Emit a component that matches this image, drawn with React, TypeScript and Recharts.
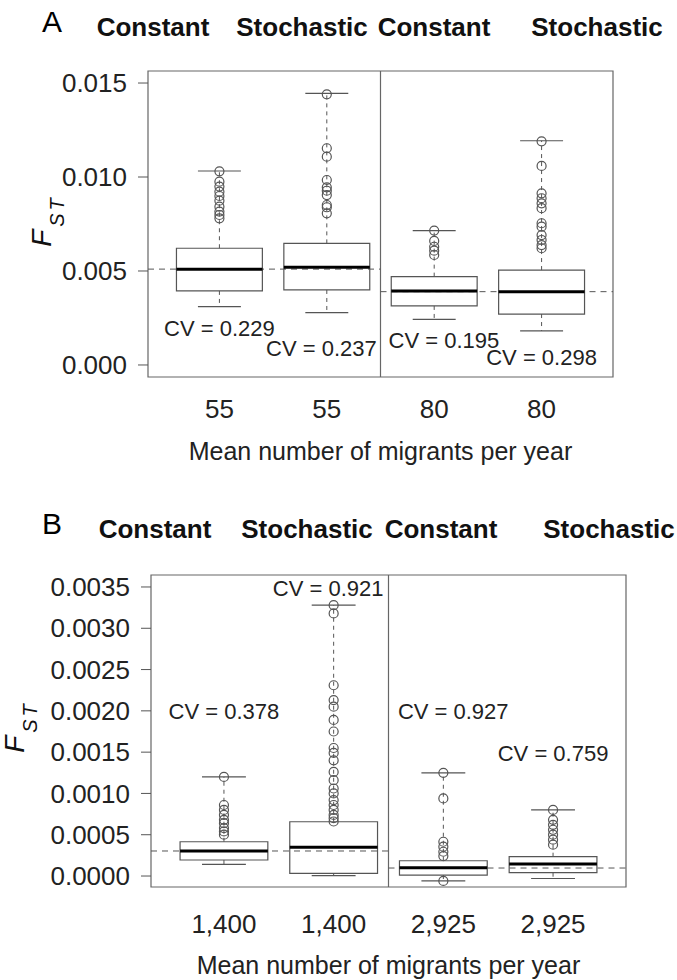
import {
  ComposedChart,
  ReferenceArea,
  ReferenceDot,
  ReferenceLine,
  Scatter,
  XAxis,
  YAxis,
} from "recharts";

const FONT = "'Liberation Sans', Arial, Helvetica, sans-serif";
const GREY = "#555555";

// shared
const groups = ["Constant", "Stochastic", "Constant", "Stochastic"];
const positions = [1, 2, 3, 4];
const xDomain: [number, number] = [0.335, 4.665];
const divider = 2.5;

// panel A
const migrantsA = ["55", "55", "80", "80"];
const minA = [0.0031, 0.00278, 0.00243, 0.00181];
const q1A = [0.00394, 0.00399, 0.00314, 0.00271];
const medA = [0.00509, 0.0052, 0.00394, 0.0039];
const q3A = [0.00621, 0.00647, 0.0047, 0.00505];
const maxA = [0.01032, 0.01445, 0.00715, 0.01193];
const outliersA = [
  [0.0103, 0.00975, 0.00949, 0.00922, 0.00899, 0.00874, 0.00842, 0.00816, 0.00798, 0.0078],
  [0.0144, 0.01153, 0.01108, 0.00984, 0.00945, 0.00927, 0.00904, 0.00851, 0.00839, 0.00807],
  [0.00715, 0.0066, 0.00629, 0.00608, 0.00585],
  [0.0119, 0.01059, 0.00913, 0.00887, 0.0086, 0.00834, 0.00754, 0.00736, 0.00691, 0.00665, 0.00638, 0.00621],
];
const meanA = [0.0051, 0.0039];
const cvTextA = ["CV = 0.229", "CV = 0.237", "CV = 0.195", "CV = 0.298"];
const cvXA = [1.0, 1.95, 3.09, 4.0];
const cvYA = [0.00197, 0.0009, 0.00133, 0.00043];
const ticksA = [0, 0.005, 0.01, 0.015];
const yDomainA: [number, number] = [-0.00064, 0.01564];

// panel B
const migrantsB = ["1,400", "1,400", "2,925", "2,925"];
const minB = [0.000141, 0.000004, -0.00006, -0.00003];
const q1B = [0.000194, 0.000032, 0.000012, 0.00004];
const medB = [0.000303, 0.000347, 0.0001, 0.000145];
const q3B = [0.000415, 0.000657, 0.000185, 0.000234];
const maxB = [0.0012, 0.00328, 0.00125, 0.0008];
const outliersB = [
  [0.0012, 0.00086, 0.0008, 0.00074, 0.00068, 0.00064, 0.00058, 0.00054, 0.0005],
  [0.00328, 0.00318, 0.00231, 0.00213, 0.00205, 0.00189, 0.00175, 0.00155, 0.00149, 0.0014,
    0.00126, 0.00116, 0.00106, 0.001, 0.00092, 0.00086, 0.0008, 0.00074, 0.0007, 0.00066],
  [0.00125, 0.00094, 0.000415, 0.000355, 0.000294, 0.000242, -0.00006],
  [0.0008, 0.00068, 0.00062, 0.00056, 0.0005, 0.00044, 0.00038],
];
const meanB = [0.000303, 0.0000968];
const cvTextB = ["CV = 0.378", "CV = 0.921", "CV = 0.927", "CV = 0.759"];
const cvXB = [1.0, 1.95, 3.09, 4.0];
const cvYB = [0.00199, 0.00349, 0.00199, 0.00149];
const ticksB = [0, 0.0005, 0.001, 0.0015, 0.002, 0.0025, 0.003, 0.0035];
const yDomainB: [number, number] = [-0.000133, 0.003645];

type PanelProps = {
  letter: string;
  top: number;
  height: number;
  marginTop: number;
  marginRight: number;
  yWidth: number;
  xAxisHeight: number;
  xTickMargin: number;
  titleOffset: number;
  headerX: number[];
  headerY: number;
  labelX: number;
  labelY: number;
  migrants: string[];
  min: number[];
  q1: number[];
  med: number[];
  q3: number[];
  max: number[];
  outliers: number[][];
  mean: number[];
  cvText: string[];
  cvX: number[];
  cvY: number[];
  ticks: number[];
  yDomain: [number, number];
  digits: number;
};

// rotated italic F with subscript ST; baseline of F sits at x = baseX, centred on midY
function FstLabel({ baseX, midY }: { baseX: number; midY: number }) {
  return (
    <div style={{ position: "absolute", left: baseX, top: midY, width: 0, height: 0 }}>
      <div
        style={{
          position: "absolute",
          left: 0,
          top: 0,
          whiteSpace: "nowrap",
          fontFamily: FONT,
          fontStyle: "italic",
          fontSize: 28,
          lineHeight: "28px",
          color: "#111",
          transformOrigin: "0 0",
          transform: "rotate(-90deg) translate(-50%, -24px)",
        }}
      >
        F
        <span
          style={{
            position: "relative",
            top: 13,
            marginLeft: 3,
            fontSize: 20,
            letterSpacing: 3,
          }}
        >
          ST
        </span>
      </div>
    </div>
  );
}

const Circle = (props: any) => (
  <circle cx={props.cx} cy={props.cy} r={4.5} fill="none" stroke={GREY} strokeWidth={1.2} />
);

function BoxPanel(p: PanelProps) {
  const points = p.outliers.flatMap((vals, i) => vals.map((v) => ({ x: positions[i], y: v })));
  const half = 0.4;
  const cap = 0.2;

  const boxes = positions.flatMap((pos, i) => [
    <ReferenceLine
      key={`wu${i}`}
      segment={[{ x: pos, y: p.q3[i] }, { x: pos, y: p.max[i] }]}
      stroke={GREY}
      strokeDasharray="4 4"
    />,
    <ReferenceLine
      key={`wl${i}`}
      segment={[{ x: pos, y: p.q1[i] }, { x: pos, y: p.min[i] }]}
      stroke={GREY}
      strokeDasharray="4 4"
    />,
    <ReferenceLine
      key={`cu${i}`}
      segment={[{ x: pos - cap, y: p.max[i] }, { x: pos + cap, y: p.max[i] }]}
      stroke={GREY}
      strokeWidth={1.2}
    />,
    <ReferenceLine
      key={`cl${i}`}
      segment={[{ x: pos - cap, y: p.min[i] }, { x: pos + cap, y: p.min[i] }]}
      stroke={GREY}
      strokeWidth={1.2}
    />,
    <ReferenceArea
      key={`b${i}`}
      x1={pos - half}
      x2={pos + half}
      y1={p.q1[i]}
      y2={p.q3[i]}
      fill="none"
      fillOpacity={0}
      stroke={GREY}
      strokeWidth={1.2}
    />,
    <ReferenceLine
      key={`m${i}`}
      segment={[{ x: pos - half, y: p.med[i] }, { x: pos + half, y: p.med[i] }]}
      stroke="#000"
      strokeWidth={3}
    />,
  ]);

  return (
    <div style={{ position: "absolute", left: 0, top: p.top, width: 677, height: p.height }}>
      <div
        style={{
          position: "absolute",
          left: 42,
          top: p.headerY - 32,
          fontFamily: FONT,
          fontSize: 30,
          color: "#000",
        }}
      >
        {p.letter}
      </div>
      {groups.map((g, i) => (
        <div
          key={i}
          style={{
            position: "absolute",
            left: p.headerX[i],
            top: p.headerY - 25,
            transform: "translateX(-50%)",
            fontFamily: FONT,
            fontWeight: "bold",
            fontSize: 26,
            color: "#111",
            whiteSpace: "nowrap",
            lineHeight: "30px",
          }}
        >
          {g}
        </div>
      ))}
      <ComposedChart
        width={677}
        height={p.height}
        margin={{ top: p.marginTop, right: p.marginRight, left: 0, bottom: 0 }}
        style={{ position: "absolute", left: 0, top: 0, fontFamily: FONT }}
      >
        <XAxis
          type="number"
          dataKey="x"
          domain={xDomain}
          allowDataOverflow
          ticks={positions}
          interval={0}
          tickFormatter={(v: number) => p.migrants[v - 1]}
          axisLine={false}
          tickLine={false}
          tickSize={0}
          tickMargin={p.xTickMargin}
          height={p.xAxisHeight}
          tick={{ fill: "#222", fontSize: 26, fontFamily: FONT }}
          label={{
            value: "Mean number of migrants per year",
            position: "insideBottom",
            offset: p.titleOffset,
            fill: "#222",
            fontSize: 25,
            fontFamily: FONT,
          }}
        />
        <YAxis
          type="number"
          dataKey="y"
          domain={p.yDomain}
          allowDataOverflow
          ticks={p.ticks}
          interval={0}
          width={p.yWidth}
          tickFormatter={(v: number) => v.toFixed(p.digits)}
          axisLine={false}
          tickLine={{ stroke: GREY }}
          tickSize={10}
          tickMargin={11}
          tick={{ fill: "#222", fontSize: 26, fontFamily: FONT }}
        />
        <ReferenceArea
          x1={xDomain[0]}
          x2={xDomain[1]}
          y1={p.yDomain[0]}
          y2={p.yDomain[1]}
          fill="none"
          fillOpacity={0}
          stroke="#666"
          strokeWidth={1.2}
        />
        <ReferenceLine x={divider} stroke="#666" strokeWidth={1.2} />
        <ReferenceLine
          segment={[{ x: xDomain[0], y: p.mean[0] }, { x: divider, y: p.mean[0] }]}
          stroke={GREY}
          strokeDasharray="6 5"
        />
        <ReferenceLine
          segment={[{ x: divider, y: p.mean[1] }, { x: xDomain[1], y: p.mean[1] }]}
          stroke={GREY}
          strokeDasharray="6 5"
        />
        {boxes}
        <Scatter data={points} shape={Circle} isAnimationActive={false} />
        {p.cvText.map((t, i) => (
          <ReferenceDot
            key={`cv${i}`}
            x={p.cvX[i]}
            y={p.cvY[i]}
            r={0}
            fill="none"
            stroke="none"
            label={{ value: t, position: "center", fontSize: 22, fill: "#222", fontFamily: FONT }}
          />
        ))}
      </ComposedChart>
      <FstLabel baseX={p.labelX} midY={p.labelY} />
    </div>
  );
}

export default function App() {
  return (
    <div style={{ position: "absolute", left: 0, top: 0, width: 677, height: 980, background: "#fff" }}>
      <BoxPanel
        letter="A"
        top={0}
        height={500}
        marginTop={71}
        marginRight={64}
        yWidth={148}
        xAxisHeight={123}
        xTickMargin={23}
        titleOffset={40}
        headerX={[153, 302, 434, 597]}
        headerY={37}
        labelX={52}
        labelY={221}
        migrants={migrantsA}
        min={minA}
        q1={q1A}
        med={medA}
        q3={q3A}
        max={maxA}
        outliers={outliersA}
        mean={meanA}
        cvText={cvTextA}
        cvX={cvXA}
        cvY={cvYA}
        ticks={ticksA}
        yDomain={yDomainA}
        digits={3}
      />
      <BoxPanel
        letter="B"
        top={500}
        height={480}
        marginTop={75}
        marginRight={51}
        yWidth={151}
        xAxisHeight={93}
        xTickMargin={28}
        titleOffset={6}
        headerX={[155, 307, 441, 609]}
        headerY={39}
        labelX={25}
        labelY={227}
        migrants={migrantsB}
        min={minB}
        q1={q1B}
        med={medB}
        q3={q3B}
        max={maxB}
        outliers={outliersB}
        mean={meanB}
        cvText={cvTextB}
        cvX={cvXB}
        cvY={cvYB}
        ticks={ticksB}
        yDomain={yDomainB}
        digits={4}
      />
    </div>
  );
}
